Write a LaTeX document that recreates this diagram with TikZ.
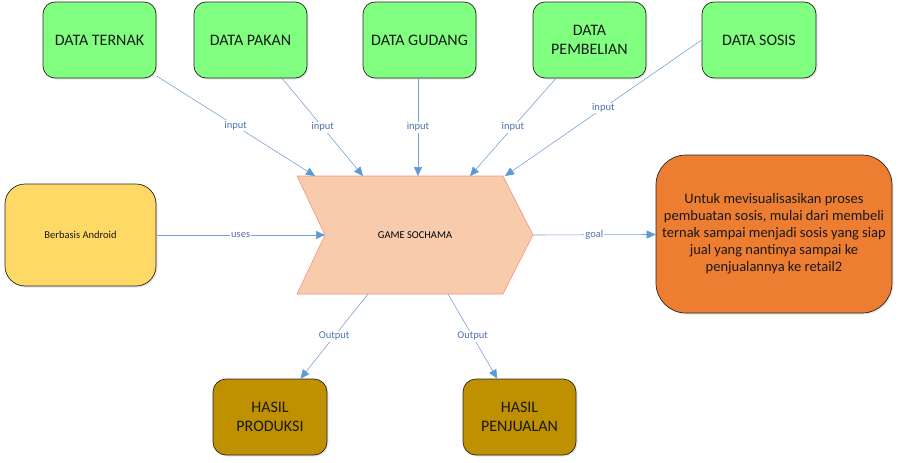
\documentclass[tikz,border=0pt]{standalone}
\usepackage{fontspec}
\setmainfont{Carlito}
\usetikzlibrary{arrows.meta,shadows}
\definecolor{datagreen}{RGB}{128,255,128}
\definecolor{androidyellow}{RGB}{255,217,102}
\definecolor{gamefill}{RGB}{248,203,173}
\definecolor{gameline}{RGB}{240,150,130}
\definecolor{goalorange}{RGB}{237,125,49}
\definecolor{hasilbrown}{RGB}{191,144,0}
\definecolor{flowblue}{RGB}{120,162,212}
\definecolor{tipblue}{RGB}{91,155,213}
\definecolor{lblblue}{RGB}{80,115,175}
\begin{document}
\begin{tikzpicture}[x=1pt,y=-1pt,
    box/.style={draw=black!85,line width=0.7pt,inner sep=2pt,align=center,
        text=black!90,drop shadow={opacity=0.2,shadow xshift=1.5pt,shadow yshift=-1.5pt}},
    databox/.style={box,fill=datagreen,rounded corners=12pt,minimum width=113pt,
        minimum height=76pt,font=\fontsize{16}{19}\selectfont},
    hasilbox/.style={box,fill=hasilbrown,rounded corners=13pt,minimum width=114pt,
        minimum height=76pt,font=\fontsize{16}{19}\selectfont},
    flow/.style={draw=flowblue,line width=0.6pt,
        -{Triangle[length=9pt,width=8pt,color=tipblue]}},
    lbl/.style={fill=white,inner sep=1pt,text=lblblue,font=\fontsize{10.5}{12}\selectfont}]
    \useasboundingbox (0,0) rectangle (898,463);

    % Game chevron
    \draw[fill=gamefill,draw=gameline,line width=0.6pt]
        (297,176) -- (503,176) -- (533,235) -- (503,294) -- (297,294) -- (325,235) -- cycle;
    \node[font=\fontsize{10.5}{12}\selectfont] (game) at (415,235) {GAME SOCHAMA};
    \coordinate (g1) at (315,176);
    \coordinate (g2) at (363,176);
    \coordinate (g3) at (418,176);
    \coordinate (g4) at (470,176);
    \coordinate (g5) at (505,176);
    \coordinate (gin) at (325,235);
    \coordinate (gtip) at (533,235);
    \coordinate (gout1) at (368,294);
    \coordinate (gout2) at (448,294);

    % Data boxes
    \node[databox] (ternak) at (99.5,40) {DATA TERNAK};
    \node[databox] (pakan) at (250.5,40) {DATA PAKAN};
    \node[databox] (gudang) at (419.5,40) {DATA GUDANG};
    \node[databox] (pembelian) at (589.5,40) {DATA\\PEMBELIAN};
    \node[databox,minimum width=114pt] (sosis) at (759,40) {DATA SOSIS};

    % Platform and goal
    \node[box,fill=androidyellow,rounded corners=20pt,minimum width=151pt,
        minimum height=102pt,font=\fontsize{10.5}{12}\selectfont] (android) at (80.5,235) {Berbasis Android};
    \node[box,fill=goalorange,rounded corners=30pt,minimum width=236pt,
        minimum height=158pt,font=\fontsize{14.5}{17}\selectfont] (goal) at (774,234)
        {Untuk mevisualisasikan proses\\pembuatan sosis, mulai dari membeli\\ternak sampai menjadi sosis yang siap\\jual yang nantinya sampai ke\\penjualannya ke retail2};

    % Results
    \node[hasilbox] (produksi) at (270,417) {HASIL\\PRODUKSI};
    \node[hasilbox,minimum width=113pt] (penjualan) at (519.5,417) {HASIL\\PENJUALAN};

    % Inputs
    \draw[flow] (ternak) -- node[lbl] {input} (g1);
    \draw[flow] (pakan) -- node[lbl] {input} (g2);
    \draw[flow] (gudang.south -| g3) -- node[lbl] {input} (g3);
    \draw[flow] (pembelian) -- node[lbl] {input} (g4);
    \draw[flow] (sosis.west) -- node[lbl] {input} (g5);

    % Uses, goal and outputs
    \draw[flow] (android) -- node[lbl] {uses} (gin);
    \draw[flow] (gtip) -- node[lbl] {goal} (goal);
    \draw[flow] (gout1) -- node[lbl] {Output} (produksi);
    \draw[flow] (gout2) -- node[lbl] {Output} (penjualan);
\end{tikzpicture}
\end{document}
